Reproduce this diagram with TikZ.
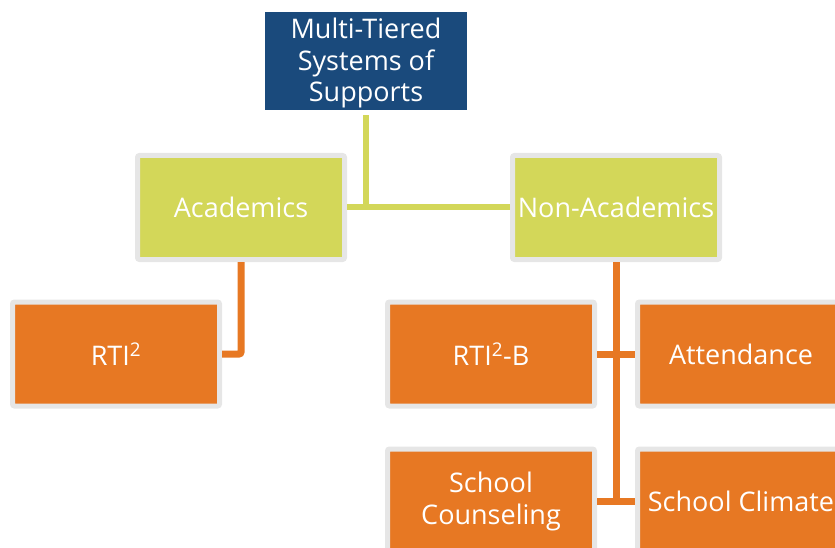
\documentclass[tikz,border=0pt]{standalone}
\usepackage{fontspec}
\setmainfont{Open Sans}
\definecolor{topblue}{HTML}{1A4A7C}
\definecolor{lime}{HTML}{D3D759}
\definecolor{orng}{HTML}{E77823}
\definecolor{bgray}{HTML}{E6E6E6}
\tikzset{
  box/.style={draw=bgray, line width=5pt, rounded corners=2pt, minimum width=207pt, minimum height=104pt,
    inner sep=0pt, align=center, text=white, font=\fontsize{27}{32}\selectfont},
  limebox/.style={box, fill=lime},
  orbox/.style={box, fill=orng},
  topbox/.style={fill=topblue, minimum width=202pt, minimum height=98pt, inner sep=0pt, align=center,
    text=white, font=\fontsize{27}{31.5}\selectfont},
  limeline/.style={draw=lime, line width=6pt},
  orline/.style={draw=orng, line width=7pt},
}
\begin{document}
\begin{tikzpicture}[x=1pt, y=-1pt]
\useasboundingbox (0,0) rectangle (835,548);
\clip (0,0) rectangle (835,548);
\node[topbox] (top) at (366,61) {\rule{0pt}{25pt}Multi-Tiered\\Systems of\\Supports};
\node[limebox] (acad) at (241,207.5) {Academics};
\node[limebox] (nonacad) at (616,207.5) {Non-Academics};
\node[orbox] (rti) at (116,354) {RTI\textsuperscript{2}};
\node[orbox] (rtib) at (491,354) {RTI\textsuperscript{2}-B};
\node[orbox] (att) at (741,354) {Attendance};
\node[orbox] (couns) at (491,501) {School\\Counseling};
\node[orbox] (clim) at (741,501) {School Climate};
\draw[limeline] (acad.east) -- (nonacad.west);
\draw[limeline, shorten <=5pt] (top.south) -- (top.south |- acad.east);
\draw[orline, rounded corners=2pt] (acad.south) |- (rti.east);
\draw[orline] (nonacad.south) -- (nonacad.south |- clim.west);
\draw[orline] (rtib.east) -- (att.west);
\draw[orline] (couns.east) -- (clim.west);
\end{tikzpicture}
\end{document}
